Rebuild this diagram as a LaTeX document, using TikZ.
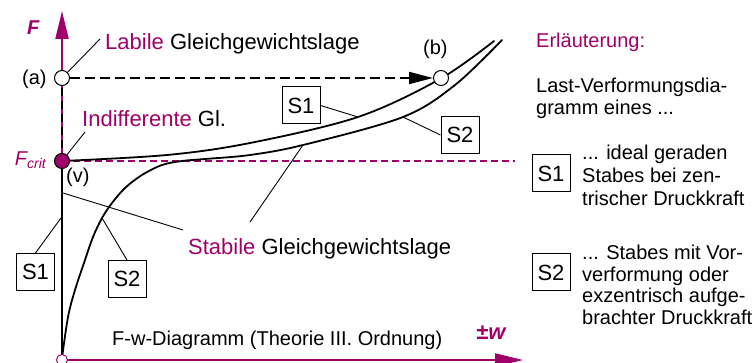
\documentclass[tikz,border=0pt]{standalone}
\usepackage{fontspec}
\setmainfont{Liberation Sans}
\usetikzlibrary{arrows.meta}
\definecolor{mag}{RGB}{160,0,105}
\begin{document}
\begin{tikzpicture}[x=1pt,y=-1pt,
  txt/.style={inner sep=0pt, font=\fontsize{20}{22}\selectfont},
  lbl/.style={txt, anchor=base west},
  big/.style={lbl, font=\fontsize{22}{24}\selectfont},
  sbox/.style={draw, line width=1pt, minimum width=38pt, minimum height=37pt, inner sep=0pt, font=\fontsize{22}{24}\selectfont},
  curve/.style={line width=1.8pt, line join=round, line cap=round},
  leader/.style={line width=0.9pt},
  axis/.style={mag, line width=2pt, -{Triangle[length=28pt,width=13pt]}},
  openpt/.style={circle, draw, fill=white, line width=1pt, minimum size=15pt, inner sep=0pt},
]
\fill[white] (0,0) rectangle (755,363);
\useasboundingbox (0,0) rectangle (755,363);

% key points
\coordinate (O) at (62,360);
\coordinate (ytip) at (62,11);
\coordinate (xtip) at (523,360);
\coordinate (fcP) at (62,161);
\coordinate (aP) at (62,78);
\coordinate (bP) at (441,78);
\coordinate (dashEnd) at (515,161);

% axes
\draw[axis] (O) -- (ytip);
\draw[axis] (O) -- (xtip);

% critical load level
\draw[mag, line width=1.2pt, dash pattern=on 7pt off 4pt] (fcP) -- (dashEnd);

% S1: vertical branch
\draw[line width=2.5pt] (O) -- (fcP);
\draw[line width=2.5pt, dash pattern=on 8pt off 5pt] (fcP) -- (aP);

% S1: post-buckling branch
\draw[curve] plot[smooth, tension=0.55] coordinates {(62,161) (167,155) (250,143) (358,117) (440,79) (494,41)};

% S2 curve
\draw[curve] plot[smooth, tension=0.55] coordinates {(62,358) (68,317) (75,290) (85,260) (93,237) (102,218) (112,203) (125,188) (142,175) (162,165) (182,161) (205,159) (250,155) (303,145) (403,117) (455,85) (502,40)};

% points
\node[openpt, draw=mag, minimum size=11pt] (o) at (O) {};
\node[openpt] (a) at (aP) {};
\node[openpt] (b) at (bP) {};
\node[circle, draw=black, fill=mag, line width=1pt, minimum size=15pt, inner sep=0pt] (fc) at (fcP) {};

% dashed jump (a) -> (b)
\draw[line width=1.8pt, dash pattern=on 10pt off 5pt, -{Triangle[length=24pt,width=12pt]}] (a) -- (b);

% axis labels
\node[inner sep=0pt, anchor=base west, text=mag, font=\fontsize{20}{22}\selectfont\bfseries\itshape] (Fl) at (27,35) {F};
\node[inner sep=0pt, anchor=base east, text=mag, font=\fontsize{20}{22}\selectfont\itshape] (fcl) at (46,166) {F{\fontsize{14}{14}\selectfont\raisebox{-3pt}{crit}}};
\node[lbl, text=mag, font=\fontsize{22}{24}\selectfont\bfseries\itshape] (pmw) at (476,340) {±w};

\node[lbl] (al) at (22,85) {(a)};
\node[lbl] (bl) at (423,55) {(b)};
\node[lbl] (vl) at (66,183) {(v)};

% descriptive labels
\node[big] (lab) at (105,50) {\textcolor{mag}{Labile} Gleichgewichtslage};
\node[big] (ind) at (82,127) {\textcolor{mag}{Indifferente} Gl.};
\node[big] (stab) at (188,255) {\textcolor{mag}{Stabile} Gleichgewichtslage};
\node[lbl] (fw) at (112,345) {F-w-Diagramm (Theorie III. Ordnung)};

% curve tags
\node[sbox] (s1a) at (301,105.5) {S1};
\node[sbox] (s2a) at (460,135) {S2};
\node[sbox] (s1b) at (35.5,272) {S1};
\node[sbox] (s2b) at (127,279) {S2};

% leaders
\coordinate (labL) at (100,39);
\draw[leader] (labL) -- (a);
\coordinate (indL) at (85,132);
\draw[leader] (indL) -- (fc);
\coordinate (c1) at (358,117);
\draw[leader] (s1a.east) -- (c1);
\coordinate (c2) at (403,117);
\draw[leader] (s2a.west) -- (c2);
\coordinate (stA) at (183,230);
\coordinate (v1) at (63,193);
\draw[leader] (stA) -- (v1);
\coordinate (stB) at (250,222);
\coordinate (c3) at (303,145);
\draw[leader] (stB) -- (c3);
\coordinate (v2) at (61,218);
\draw[leader] (s1b.north) -- (v2);
\coordinate (c4) at (102,218);
\draw[leader] (s2b.north) -- (c4);

% legend
\node[lbl, text=mag] (er) at (536,48) {Erläuterung:};
\node[lbl] (l1) at (536,93) {Last-Verformungsdia-};
\node[lbl] (l2) at (536,115) {gramm eines ...};

\node[sbox] (ls1) at (551,173.5) {S1};
\node[lbl] (t11) at (582,160) {... ideal geraden};
\node[lbl] (t12) at (582,183) {Stabes bei zen-};
\node[lbl] (t13) at (582,206) {trischer Druckkraft};

\node[sbox] (ls2) at (551,272.5) {S2};
\node[lbl] (t21) at (582,260) {... Stabes mit Vor-};
\node[lbl] (t22) at (582,282) {verformung oder};
\node[lbl] (t23) at (582,303) {exzentrisch aufge-};
\node[lbl] (t24) at (582,325) {brachter Druckkraft};
\end{tikzpicture}
\end{document}
